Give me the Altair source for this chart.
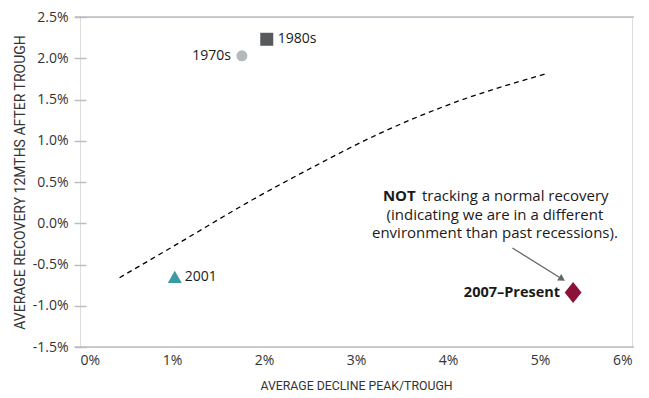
import altair as alt
import pandas as pd

# Recession episodes: average peak-to-trough decline vs. average recovery 12 months after trough (%)
periods = ["1970s", "1980s", "2001", "2007\u2013Present"]
decline = [1.76, 2.03, 1.03, 5.36]
recovery = [2.03, 2.23, -0.65, -0.84]

# Normal-recovery trend (dashed curve)
trend_x = [0.43, 1.09, 1.82, 2.53, 3.26, 3.99, 5.09]
trend_y = [-0.66, -0.23, 0.25, 0.68, 1.09, 1.43, 1.82]

y_ticks = [-1.5, -1.0, -0.5, 0.0, 0.5, 1.0, 1.5, 2.0, 2.5]
x_ticks = [0, 1, 2, 3, 4, 5, 6]

W, H = 552, 330
LABEL_FONT = "Open Sans"
TITLE_FONT = "Roboto"
GRID = "#b9bec3"
TEXT = "#333333"
INK = "#1a1a1a"

xs = alt.Scale(domain=[0, 6], nice=False, zero=False)
ys = alt.Scale(domain=[-1.5, 2.5], nice=False, zero=False)

pts = pd.DataFrame({"period": periods, "decline": decline, "recovery": recovery})
trend = pd.DataFrame({"decline": trend_x, "recovery": trend_y})

base = alt.Chart(pts)


def xy(xf="decline:Q", yf="recovery:Q"):
    return dict(x=alt.X(xf, scale=xs), y=alt.Y(yf, scale=ys))


# Axes: ticks, labels and titles only
axes = alt.Chart(pd.DataFrame({"decline": [0], "recovery": [0]})).mark_point(opacity=0).encode(
    x=alt.X("decline:Q", scale=xs, axis=alt.Axis(
        values=x_ticks, title="AVERAGE DECLINE PEAK/TROUGH", grid=False, domain=False,
        ticks=False, labelPadding=6, labelExpr="datum.value + '%'",
        labelFont=LABEL_FONT, labelFontSize=14, labelColor=TEXT,
        titleFont=TITLE_FONT, titleFontSize=12.3, titleFontWeight="normal",
        titleColor=TEXT, titlePadding=12)),
    y=alt.Y("recovery:Q", scale=ys, axis=alt.Axis(
        values=y_ticks, title="AVERAGE RECOVERY 12MTHS AFTER TROUGH", grid=False,
        domain=False, offset=-6, tickSize=12, tickColor=GRID, tickWidth=1.5,
        labelPadding=6,
        labelExpr="(datum.value < 0 ? '-' : '') + format(abs(datum.value), '.1f') + '%'",
        labelFont=LABEL_FONT, labelFontSize=14, labelColor=TEXT,
        titleFont=TITLE_FONT, titleFontSize=14, titleFontWeight="normal",
        titleColor=TEXT, titlePadding=5)),
)

# Top and bottom frame lines
frame = alt.Chart(pd.DataFrame({"recovery": [-1.5, 2.5]})).mark_rule(
    color=GRID, strokeWidth=1.5
).encode(
    y=alt.Y("recovery:Q", scale=ys),
    x=alt.value(-5),
    x2=alt.value(W + 2),
)

trend_line = alt.Chart(trend).mark_line(
    color="black", strokeWidth=1.3, strokeDash=[5, 4], interpolate="monotone"
).encode(**xy())

marker_styles = {
    "1970s": ("circle", "#b5b9bd", 121),
    "1980s": ("square", "#58595b", 169),
    "2001": ("triangle-up", "#3d9aa2", 196),
    "2007\u2013Present": ("M0,-1L0.8,0L0,1L-0.8,0Z", "#8c1337", 441),
}

layers = [frame, axes, trend_line]
for name, (shape, color, size) in marker_styles.items():
    layers.append(
        base.transform_filter(alt.datum.period == name).mark_point(
            shape=shape, filled=True, fill=color, color=color, size=size, opacity=1, strokeWidth=0
        ).encode(**xy())
    )

label_cfg = {
    "1970s": dict(align="right", dx=-11, fontWeight="normal"),
    "1980s": dict(align="left", dx=11, fontWeight="normal"),
    "2001": dict(align="left", dx=10, fontWeight="normal"),
    "2007\u2013Present": dict(align="right", dx=-13, fontWeight="bold", fontSize=14.5),
}
for name, cfg in label_cfg.items():
    opts = dict(font=LABEL_FONT, fontSize=14, color=INK, baseline="middle")
    opts.update(cfg)
    layers.append(
        base.transform_filter(alt.datum.period == name).mark_text(**opts)
        .encode(text="period:N", **xy())
    )

# Callout text and arrow
note_x = 4.51
note = pd.DataFrame({
    "decline": [note_x, note_x],
    "recovery": [0.106, -0.118],
    "text": ["(indicating we are in a different", "environment than past recessions)."],
})
layers.append(
    alt.Chart(note).mark_text(font=LABEL_FONT, fontSize=15, color=INK, baseline="middle", align="center")
    .encode(text="text:N", **xy())
)
line1 = pd.DataFrame({"decline": [note_x], "recovery": [0.330]})
layers.append(
    alt.Chart(line1).mark_text(font=LABEL_FONT, fontSize=15, color=INK, baseline="middle",
                               align="left", fontWeight="bold", dx=-112, text="NOT")
    .encode(**xy())
)
layers.append(
    alt.Chart(line1).mark_text(font=LABEL_FONT, fontSize=15, color=INK, baseline="middle",
                               align="left", dx=-73, text="tracking a normal recovery")
    .encode(**xy())
)

arrow = pd.DataFrame({"decline": [4.70], "recovery": [-0.30], "decline2": [5.24], "recovery2": [-0.675]})
layers.append(
    alt.Chart(arrow).mark_rule(color="#666666", strokeWidth=1.3).encode(
        x2="decline2:Q", y2="recovery2:Q", **xy())
)
layers.append(
    alt.Chart(arrow).mark_point(shape="triangle-right", filled=True, color="#666666", size=60,
                                angle=32, opacity=1, strokeWidth=0).encode(**xy("decline2:Q", "recovery2:Q"))
)

chart = alt.layer(*layers).properties(
    width=W, height=H,
    padding={"left": 80, "top": 17, "right": 17, "bottom": 51},
    autosize=alt.AutoSizeParams(type="none"),
).configure_view(stroke=None).configure(background="white")

chart.save("out.html", embed_options={"renderer": "svg", "actions": False})
